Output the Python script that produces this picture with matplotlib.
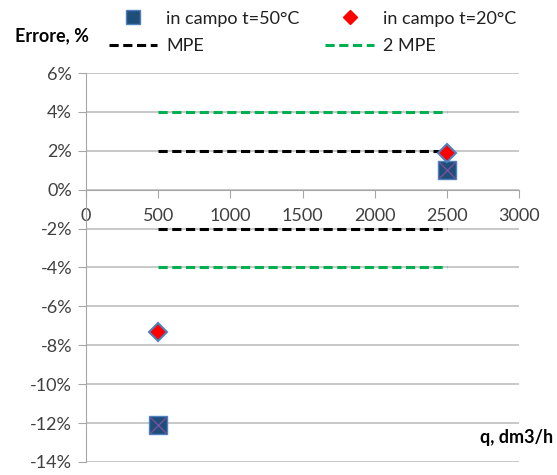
import numpy as np
import matplotlib
matplotlib.use("Agg")
import matplotlib.pyplot as plt
from matplotlib.lines import Line2D

plt.rcParams['font.family'] = ['Lato', 'DejaVu Sans']

# dati
q_50 = [500, 2500]
err_50 = [-12.1, 1.0]
q_20 = [500, 2500]
err_20 = [-7.3, 1.9]
q_mpe = [500, 2500]
mpe = 2.0
mpe2 = 4.0
xticks = [0, 500, 1000, 1500, 2000, 2500, 3000]
yticks = [6, 4, 2, 0, -2, -4, -6, -8, -10, -12, -14]

fig = plt.figure(figsize=(5.57, 4.75), dpi=100)
ax = fig.add_axes([0.1544, 0.0274, 0.7774, 0.8189])

for v in yticks:
    ax.axhline(v, color='#bfbfbf', lw=1.2, zorder=0)

dash = (0, (3, 1.5))
ax.plot(q_mpe, [mpe, mpe], color='black', ls=dash, lw=2.2)
ax.plot(q_mpe, [-mpe, -mpe], color='black', ls=dash, lw=2.2)
ax.plot(q_mpe, [mpe2, mpe2], color='#00b050', ls=dash, lw=2.2)
ax.plot(q_mpe, [-mpe2, -mpe2], color='#00b050', ls=dash, lw=2.2)

ax.plot(q_50, err_50, ls='none', marker='s', ms=13, mfc='#1f4e79', mec='#4f81bd', mew=1, zorder=3)
ax.plot(q_50, err_50, ls='none', marker='x', ms=11, mec='#7b4fa0', mew=1, zorder=4)
ax.plot(q_20, err_20, ls='none', marker='D', ms=9, mfc='#ff0000', mec='#4f81bd', mew=1.5, zorder=5)

ax.set_xlim(0, 3000)
ax.set_ylim(-14, 6)
ax.set_xticks(xticks)
ax.set_yticks(yticks)
ax.set_yticklabels([f'{v}%' for v in yticks])
for s in ['top', 'right']:
    ax.spines[s].set_visible(False)
ax.spines['left'].set_color('#a6a6a6')
ax.spines['bottom'].set_color('#a6a6a6')
ax.spines['bottom'].set_position(('data', 0))
ax.tick_params(axis='both', colors='#a6a6a6', labelcolor='#404040', labelsize=13, length=6)
ax.tick_params(axis='x', pad=7)
ax.tick_params(axis='y', pad=4)
ax.set_facecolor('none')

fig.text(0.027, 0.925, 'Errore, %', fontsize=13, fontweight='bold', va='center')
fig.text(0.993, 0.078, 'q, dm3/h', fontsize=13, fontweight='bold', ha='right', va='center')

handles = [
    Line2D([], [], ls='none', marker='s', ms=10, mfc='#1f4e79', mec='#4f81bd'),
    Line2D([], [], color='black', ls=dash, lw=2.2),
    Line2D([], [], ls='none', marker='D', ms=7, mfc='#ff0000', mec='#ff0000'),
    Line2D([], [], color='#00b050', ls=dash, lw=2.2),
]
labels = ['in campo t=50°C', 'MPE', 'in campo t=20°C', '2 MPE']
fig.legend(handles, labels, ncol=2, loc='upper left', bbox_to_anchor=(0.166, 1.012),
           frameon=False, fontsize=13, handlelength=2.7, handletextpad=0.5,
           columnspacing=1.4, labelspacing=0.65, labelcolor='#202020')

fig.savefig('out.png', dpi=100)
